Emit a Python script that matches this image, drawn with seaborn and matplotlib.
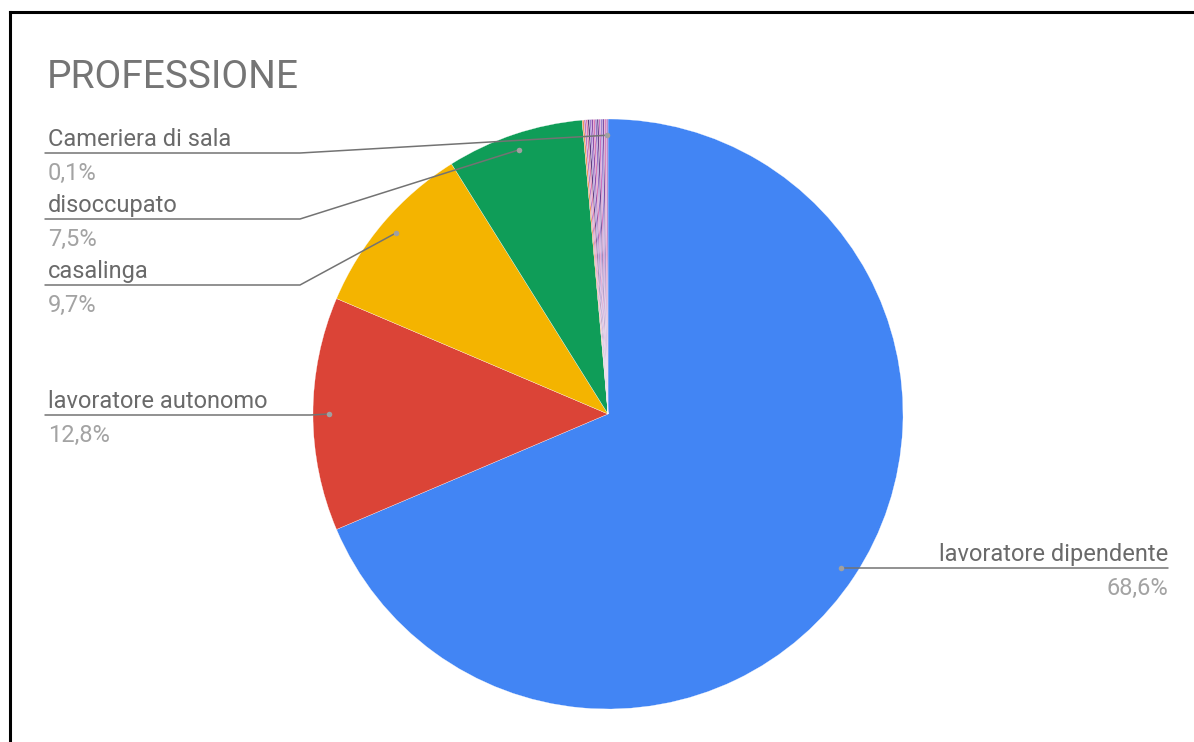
import matplotlib
matplotlib.use("Agg")
import numpy as np
import matplotlib.pyplot as plt
import seaborn as sns
from matplotlib.lines import Line2D

# --- data -------------------------------------------------------------
main_categories = ["lavoratore dipendente", "lavoratore autonomo", "casalinga", "disoccupato"]
main_shares = [68.6, 12.8, 9.7, 7.5]
minor_categories = [f"altra professione {i}" for i in range(1, 14)] + ["Cameriera di sala"]
minor_shares = [0.1] * 14
title = "PROFESSIONE"

categories = main_categories + minor_categories
shares = main_shares + minor_shares

# --- style ------------------------------------------------------------
sns.set_theme(style="white")
plt.rcParams["font.family"] = ["Roboto", "DejaVu Sans"]

main_colors = ["#4285F4", "#DB4437", "#F4B400", "#0F9D58"]
minor_colors = ["#F0955A", "#B57AC8", "#E07CA8", "#5E3D80", "#A27FCF", "#8E4FAA",
                "#D97AB5", "#9673C8", "#6B4690", "#CB72BE", "#9D86D0", "#7E50A6",
                "#DC86BC", "#B37BC8"]
colors = main_colors + minor_colors

W, H = 1194, 742
fig = plt.figure(figsize=(W / 100, H / 100), dpi=100)
fig.patch.set_facecolor("white")
ax = fig.add_axes([0, 0, 1, 1])

cx, cy_px, R = 608, 414, 295


def Y(y):
    """convert a top-down pixel row into the axes' upward y coordinate"""
    return H - y


wedges, _ = ax.pie(shares, colors=colors, startangle=90, counterclock=False,
                   center=(cx, Y(cy_px)), radius=R, frame=True,
                   wedgeprops=dict(edgecolor="white", linewidth=0.2))
ax.set_xlim(0, W)
ax.set_ylim(0, H)
ax.set_aspect("equal")
ax.axis("off")

# --- title ------------------------------------------------------------
ax.text(47, Y(88), title, fontsize=28, color="#757575", ha="left", va="baseline")

# --- leader-line labels ----------------------------------------------
line_c = "#737373"
name_c = "#6a6a6a"
pct_c = "#a3a3a3"
fs = 17


def pct_text(v):
    return f"{v:.1f}%".replace(".", ",")


def anchor(idx, frac=0.945):
    w = wedges[idx]
    a = np.deg2rad((w.theta1 + w.theta2) / 2)
    return cx + frac * R * np.cos(a), cy_px - frac * R * np.sin(a)


left_labels = [
    (categories.index("Cameriera di sala"), 153, 300),
    (categories.index("disoccupato"), 219, 300),
    (categories.index("casalinga"), 285, 300),
    (categories.index("lavoratore autonomo"), 415, 310),
]
for idx, uy, ex in left_labels:
    dx, dy = anchor(idx)
    ax.add_line(Line2D([45, ex, dx], [Y(uy), Y(uy), Y(dy)], color=line_c, lw=1.1))
    ax.plot(dx, Y(dy), "o", ms=4, color="#a0a0a0", mec="none")
    ax.text(48, Y(uy - 7), categories[idx], fontsize=fs, color=name_c,
            ha="left", va="baseline")
    ax.text(48, Y(uy + 27), pct_text(shares[idx]), fontsize=fs, color=pct_c,
            ha="left", va="baseline")

# right label for the largest slice
idx = 0
dx, dy = anchor(idx)
uy = dy
ax.add_line(Line2D([dx, 1168], [Y(uy), Y(uy)], color=line_c, lw=1.1))
ax.plot(dx, Y(dy), "o", ms=4, color="#a0a0a0", mec="none")
ax.text(1168, Y(uy - 7), categories[idx], fontsize=fs, color=name_c,
        ha="right", va="baseline")
ax.text(1168, Y(uy + 27), pct_text(shares[idx]), fontsize=fs, color=pct_c,
        ha="right", va="baseline")

# --- frame on the top and left edges ---------------------------------
fig.add_artist(Line2D([10 / W, 10 / W], [0, 1 - 12 / H], color="black", lw=2.2,
                      transform=fig.transFigure, solid_capstyle="projecting"))
fig.add_artist(Line2D([10 / W, 1], [1 - 12 / H, 1 - 12 / H], color="black", lw=2.2,
                      transform=fig.transFigure, solid_capstyle="projecting"))

fig.savefig("out.png", dpi=100)
